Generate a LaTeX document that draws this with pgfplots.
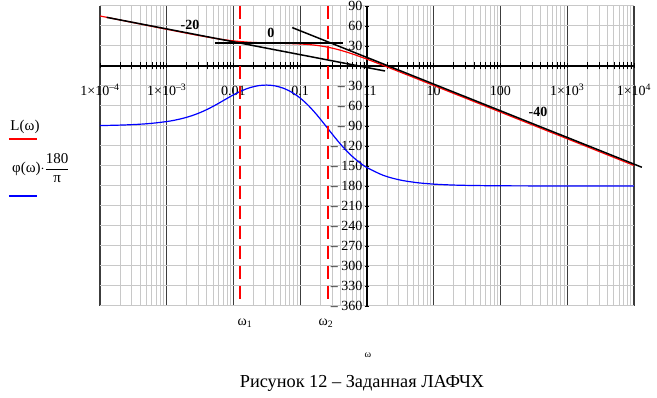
\documentclass[border=0pt]{standalone}
\usepackage{fontspec}
\setmainfont{Liberation Serif}
\usepackage{amsmath}
\usepackage{pgfplots}
\pgfplotsset{compat=1.18}
\definecolor{gridlight}{RGB}{200,200,200}
\definecolor{griddark}{RGB}{60,60,60}
\begin{document}
\begin{tikzpicture}
\begin{axis}[
  at={(0pt,0pt)}, anchor=south west,
  scale only axis, width=534pt, height=300pt,
  xmode=log, log basis x=10,
  xmin=1e-4, xmax=1e4, ymin=-360, ymax=90,
  axis lines=middle,
  axis line style={-, black, line width=1.2pt},
  every inner x axis line/.append style={-},
  every inner y axis line/.append style={-},
  hide obscured x ticks=false, hide obscured y ticks=false,
  xtick={1e-4,1e-3,1e-2,1e-1,1,10,100,1000,10000},
  xticklabels={1\texttimes10\textsuperscript{–4},1\texttimes10\textsuperscript{–3},0.01,0.1,1,10,100,1\texttimes10\textsuperscript{3},1\texttimes10\textsuperscript{4}},
  minor xtick={2e-4,3e-4,4e-4,5e-4,6e-4,7e-4,8e-4,9e-4,
    2e-3,3e-3,4e-3,5e-3,6e-3,7e-3,8e-3,9e-3,
    0.02,0.03,0.04,0.05,0.06,0.07,0.08,0.09,
    0.2,0.3,0.4,0.5,0.6,0.7,0.8,0.9,
    2,3,4,5,6,7,8,9,
    20,30,40,50,60,70,80,90,
    200,300,400,500,600,700,800,900,
    2000,3000,4000,5000,6000,7000,8000,9000},
  ytick={-360,-330,-300,-270,-240,-210,-180,-150,-120,-90,-60,-30,0,30,60,90},
  yticklabels={– 360,– 330,– 300,– 270,– 240,– 210,– 180,– 150,– 120,– 90,– 60,– 30,{},30,60,90},
  grid=both,
  minor grid style={gridlight, line width=1pt},
  major grid style={gridlight, line width=1pt},
  major x grid style={griddark, line width=1.4pt},
  tick align=center,
  major tick length=5pt, minor tick length=7pt,
  tick style={black, line width=0.8pt},
  clip=false,
  xticklabel style={anchor=base, yshift=-27pt, font=\fontsize{14}{16}\selectfont},
  yticklabel style={anchor=east, inner sep=1pt, xshift=-1pt, font=\fontsize{14}{16}\selectfont},
  extra x ticks={1},
  extra x tick labels={1},
  extra x tick style={grid=none, xticklabel style={anchor=base west, xshift=-1pt}},
]
% L(omega)
\addplot[red, line width=1.2pt, smooth] table {
1e-4 75.03
3.162e-4 65.03
1e-3 55.06
1.778e-3 50.14
3.162e-3 45.37
5.623e-3 41.04
0.01 37.63
0.01778 35.57
0.03162 34.57
0.05623 33.97
0.1 33.05
0.1334 32.2
0.1778 30.88
0.2371 28.95
0.3162 26.31
0.4217 23.0
0.5623 19.12
0.7499 14.81
1 10.23
1.334 5.48
1.778 0.62
3.162 -9.26
5.623 -19.22
10 -29.21
31.62 -49.2
100 -69.2
1000 -109.2
10000 -149.2
};
% phase
\addplot[blue, line width=1.2pt, smooth] table {
1e-4 -89.33
1.778e-4 -88.81
3.162e-4 -87.88
5.623e-4 -86.24
1e-3 -83.33
1.334e-3 -81.15
1.778e-3 -78.29
2.371e-3 -74.58
3.162e-3 -69.88
4.217e-3 -64.13
5.623e-3 -57.48
7.499e-3 -50.29
0.01 -43.24
0.01334 -37.07
0.01778 -32.36
0.02371 -29.48
0.03162 -28.62
0.04217 -29.89
0.05623 -33.45
0.07499 -39.49
0.1 -48.17
0.1334 -59.57
0.1778 -73.42
0.2371 -88.91
0.3162 -104.79
0.4217 -119.79
0.5623 -132.88
0.7499 -143.74
1 -152.39
1.778 -164.26
3.162 -171.11
5.623 -175.0
10 -177.19
17.78 -178.42
31.62 -179.10
100 -179.71
1000 -179.97
10000 -180.0
};
% asymptotes
\addplot[black, line width=1.5pt] coordinates {(1.259e-4,73) (1.862,-7.5)};
\addplot[black, line width=1.5pt] coordinates {(5.25e-3,34.2) (0.437,34.2)};
\addplot[black, line width=1.5pt] coordinates {(0.0759,57.6) (13120,-151.9)};
% corner frequencies
\addplot[red, line width=1.8pt, dash pattern=on 13pt off 7pt] coordinates {(0.0125,90) (0.0125,-360)};
\addplot[red, line width=1.8pt, dash pattern=on 13pt off 7pt] coordinates {(0.258,90) (0.258,-360)};
\end{axis}
% annotations
\node[font=\bfseries\fontsize{14}{16}\selectfont] at (90pt,281pt) {-20};
\node[font=\bfseries\fontsize{14}{16}\selectfont] at (171pt,273pt) {0};
\node[font=\bfseries\fontsize{14}{16}\selectfont] at (438pt,194pt) {-40};
\node[font=\fontsize{14}{16}\selectfont] at (145pt,-17pt) {ω\textsubscript{1}};
\node[font=\fontsize{14}{16}\selectfont] at (226pt,-17pt) {ω\textsubscript{2}};
\node[font=\fontsize{10}{12}\selectfont] at (268pt,-49pt) {ω};
\node[font=\fontsize{18.3}{21}\selectfont] at (262pt,-77pt) {Рисунок 12 – Заданная ЛАФЧХ};
% legend
\node[font=\fontsize{15}{17}\selectfont] at (-75pt,179pt) {L(ω)};
\draw[red, line width=1.2pt] (-91pt,167pt) -- (-63pt,167pt);
\node[anchor=west, inner sep=0pt, font=\fontsize{15}{17}\selectfont] at (-88pt,138pt) {φ(ω)$\cdot\dfrac{\text{180}}{\text{π}}$};
\draw[blue, line width=1.2pt] (-91pt,110pt) -- (-63pt,110pt);
\pgfresetboundingbox
\path[use as bounding box] (-100pt,-92pt) rectangle (557pt,306pt);
\end{tikzpicture}
\end{document}
